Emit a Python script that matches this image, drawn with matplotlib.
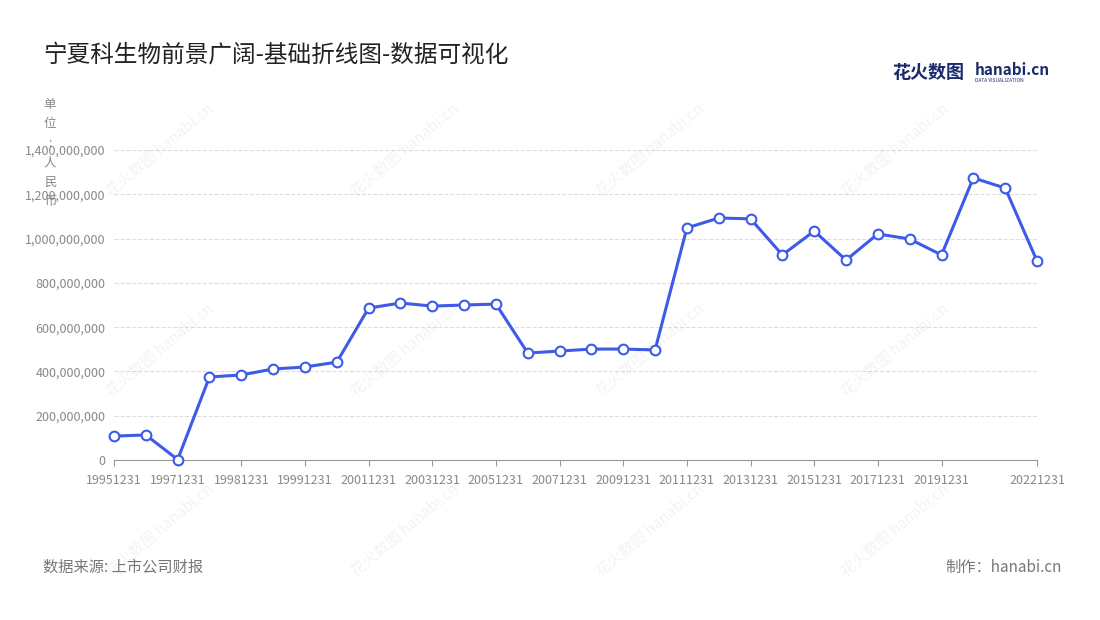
import matplotlib
matplotlib.use("Agg")
import matplotlib.pyplot as plt
from matplotlib.ticker import FuncFormatter

plt.rcParams['font.family'] = ['Noto Sans CJK SC', 'DejaVu Sans']

dates = ["19951231","19961231","19971231","19980630","19981231","19990630","19991231","20001231",
         "20011231","20021231","20031231","20041231","20051231","20061231","20071231","20081231",
         "20091231","20101231","20111231","20121231","20131231","20141231","20151231","20161231",
         "20171231","20181231","20191231","20201231","20211231","20221231"]
values = [108e6,113e6,2e6,375e6,384e6,411e6,420e6,442e6,686e6,709e6,695e6,700e6,704e6,483e6,492e6,501e6,
          501e6,497e6,1048e6,1093e6,1089e6,926e6,1034e6,903e6,1021e6,998e6,926e6,1274e6,1228e6,899e6]

fig = plt.figure(figsize=(11, 6.2), dpi=100)
ax = fig.add_axes([114/1100, 1-460/620, (1037-114)/1100, 310/620])
x = list(range(len(values)))
ax.plot(x, values, color='#3d5be8', lw=2.2, marker='o', ms=7, mfc='white', mec='#3d5be8', mew=1.5, zorder=3, clip_on=False)
ax.set_xlim(0, len(values)-1)
ax.set_ylim(0, 1.4e9)
ax.set_yticks([i*2e8 for i in range(8)])
ax.yaxis.set_major_formatter(FuncFormatter(lambda v, p: f"{int(v):,}"))
ticks = list(range(0, 27, 2)) + [29]
ax.set_xticks(ticks)
ax.set_xticklabels([dates[i] for i in ticks])
ax.tick_params(axis='both', labelsize=9, colors='#888888', length=0, pad=6)
ax.tick_params(axis='x', length=4, color='#999999')
ax.grid(axis='y', ls='--', color='#dddddd', lw=0.8)
for s in ['top', 'right', 'left']:
    ax.spines[s].set_visible(False)
ax.spines['bottom'].set_color('#999999')

fig.text(43/1100, 1-55/620, "宁夏科生物前景广阔-基础折线图-数据可视化", fontsize=17, color='#222222', va='center')
fig.text(50/1100, 1-153/620, "单\n位\n:\n人\n民\n币", fontsize=9, color='#888888', va='center', ha='center', linespacing=1.65)
fig.text(43/1100, 1-567/620, "数据来源: 上市公司财报", fontsize=11, color='#777777', va='center')
fig.text(1062/1100, 1-567/620, "制作：hanabi.cn", fontsize=11, color='#777777', va='center', ha='right')
fig.text(892/1100, 1-72/620, "花火数图", fontsize=13, color='#1a2b6b', va='center', weight='bold')
fig.text(975/1100, 1-70/620, "hanabi.cn", fontsize=11, color='#1a2b6b', va='center', weight='bold')
fig.text(975/1100, 1-80/620, "DATA VISUALIZATION", fontsize=3.5, color='#1a2b6b', va='center')
for yy in [150, 350, 530]:
    for xx in [160, 405, 650, 895]:
        fig.text(xx/1100, 1-yy/620, "花火数图 hanabi.cn", fontsize=11, color='#000000', alpha=0.05, rotation=40, ha='center', va='center')
fig.savefig("out.png", dpi=100, facecolor='white')
